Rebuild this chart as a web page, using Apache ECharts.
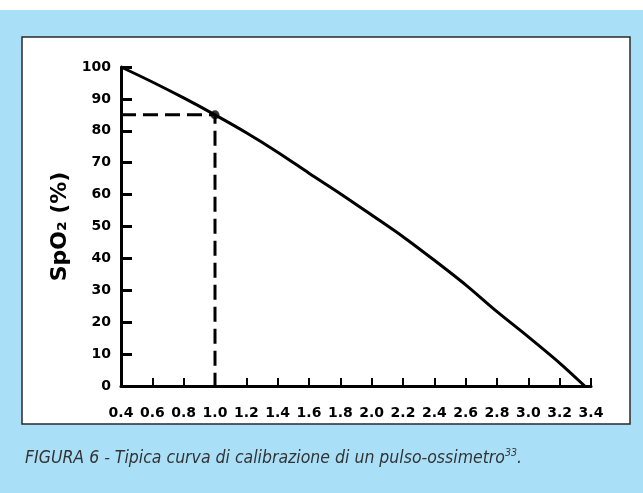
<!DOCTYPE html>
<html>
<head>
<meta charset="utf-8">
<script src="https://cdn.jsdelivr.net/npm/echarts@6/dist/echarts.min.js"></script>
<style>
html,body{margin:0;padding:0;background:#fff;}
#chart{width:643px;height:493px;}
</style>
</head>
<body>
<div id="chart"></div>
<script>
// Data
const xValues = [0.4, 0.6, 0.8, 1.0, 1.2, 1.4, 1.6, 1.8, 2.0, 2.2, 2.4, 2.6, 2.8, 3.0, 3.2, 3.36];
const spo2Values = [100, 95.3, 90.3, 85, 79.4, 73.3, 66.7, 60.3, 53.6, 46.8, 39.4, 31.7, 23.3, 15.4, 7.2, 0];
const calibX = 1.0;
const calibY = 85;
const xTickLabels = ['0.4','0.6','0.8','1.0','1.2','1.4','1.6','1.8','2.0','2.2','2.4','2.6','2.8','3.0','3.2','3.4'];
const yTickLabels = ['0','10','20','30','40','50','60','70','80','90','100'];
const yAxisName = 'SpO\u2082 (%)';
const captionText = 'FIGURA 6 - Tipica curva di calibrazione di un pulso-ossimetro';
const captionSup = '33';

const curveData = xValues.map((x, i) => [x, spo2Values[i]]);
const guideData = [[0.4, calibY], [calibX, calibY], [calibX, 0]];

const chart = echarts.init(document.getElementById('chart'), null, {renderer: 'canvas'});
const labelFont = {fontFamily: 'DejaVu Sans', fontWeight: 'bold', fontSize: 14, color: '#000'};
const capFont = '"DejaVu Sans Condensed", "Liberation Sans", sans-serif';

chart.setOption({
  animation: false,
  backgroundColor: '#fff',
  graphic: [
    {type: 'rect', z: -10, silent: true, shape: {x: 0, y: 10, width: 643, height: 483}, style: {fill: '#aadff8'}},
    {type: 'rect', z: -9, silent: true, shape: {x: 22, y: 37, width: 608, height: 387}, style: {fill: '#fff', stroke: '#2a2a2a', lineWidth: 1.5}}
  ],
  title: {
    left: 20, top: 443,
    text: '{a|' + captionText + '}{s|' + captionSup + '}{a|.}',
    textStyle: {
      fontWeight: 'normal',
      rich: {
        a: {fontFamily: capFont, fontStyle: 'italic', fontWeight: 'normal', fontSize: 17.5, color: '#333'},
        s: {fontFamily: capFont, fontStyle: 'italic', fontWeight: 'normal', fontSize: 10.5, color: '#333', verticalAlign: 'top', padding: [0,0,9,0]}
      }
    }
  },
  grid: {left: 121, right: 52, top: 67, bottom: 107, containLabel: false},
  xAxis: {
    type: 'value', min: 0.4, max: 3.4, interval: 0.2,
    axisLine: {lineStyle: {color: '#000', width: 3}},
    axisTick: {inside: true, length: 8, lineStyle: {color: '#000', width: 2}},
    splitLine: {show: false},
    axisLabel: Object.assign({margin: 20, formatter: v => {
      const i = Math.round((v - 0.4) / 0.2);
      return xTickLabels[i] !== undefined ? xTickLabels[i] : '';
    }}, labelFont)
  },
  yAxis: {
    type: 'value', min: 0, max: 100, interval: 10,
    name: yAxisName, nameLocation: 'middle', nameGap: 50, nameRotate: 90,
    nameTextStyle: {fontFamily: 'DejaVu Sans', fontWeight: 'bold', fontSize: 22, color: '#000'},
    axisLine: {show: true, lineStyle: {color: '#000', width: 3}},
    axisTick: {show: true, inside: true, length: 11, lineStyle: {color: '#000', width: 3}},
    splitLine: {show: false},
    axisLabel: Object.assign({margin: 10, formatter: v => {
      const i = Math.round(v / 10);
      return yTickLabels[i] !== undefined ? yTickLabels[i] : '';
    }}, labelFont)
  },
  series: [
    {
      type: 'line', data: curveData, smooth: 0.3, showSymbol: false,
      lineStyle: {color: '#000', width: 3}, z: 3
    },
    {
      type: 'line', data: guideData, showSymbol: false,
      lineStyle: {color: '#000', width: 3, type: [15, 7]}, z: 2
    },
    {
      type: 'scatter', data: [[calibX, calibY]], symbolSize: 9,
      itemStyle: {color: '#000'}, z: 4
    }
  ]
});
</script>
</body>
</html>
